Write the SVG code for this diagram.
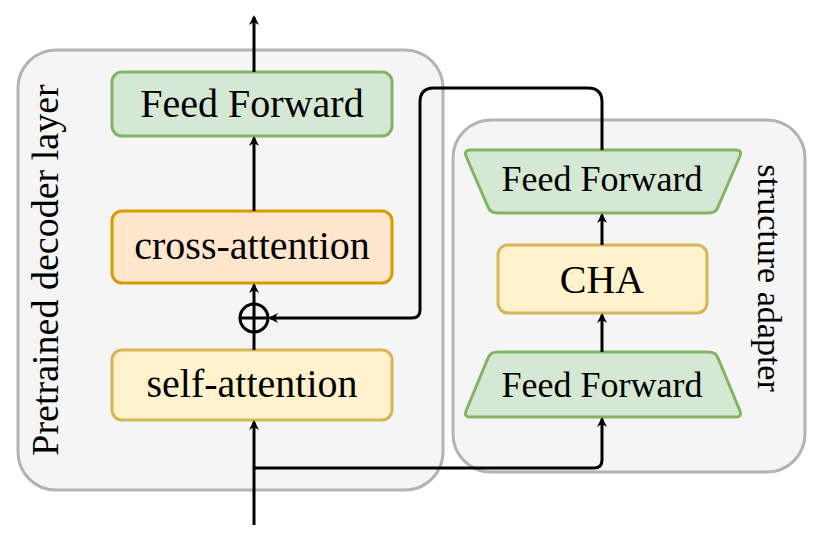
<svg xmlns="http://www.w3.org/2000/svg" width="831" height="551" viewBox="0 0 831 551">
<style>
.c{fill:#f5f5f5;stroke:#b3b3b3;stroke-width:3}
.g{fill:#d5e8d4;stroke:#82b366;stroke-width:3}
.o{fill:#ffe6cc;stroke:#d79b00;stroke-width:3}
.y{fill:#fff2cc;stroke:#d6b656;stroke-width:3}
text{font-family:"Liberation Serif",serif;fill:#000;text-anchor:middle}
.l{stroke:#000;stroke-width:3;fill:none}
</style>
<defs><marker id="a" markerWidth="10" markerHeight="10" refX="8" refY="5" orient="auto" markerUnits="userSpaceOnUse"><path d="M0,0 L10,5 L0,10 L3,5Z" fill="#000"/></marker></defs>
<g id="decoder"><rect class="c" x="18" y="50" width="425" height="440" rx="38"/>
<text transform="translate(58,270) rotate(-90)" font-size="38">Pretrained decoder layer</text></g>
<g id="adapter"><rect class="c" x="453" y="120" width="352" height="352" rx="38"/>
<text transform="translate(758,278) rotate(90)" font-size="34">structure adapter</text></g>
<g id="ff1"><rect class="g" x="112" y="72" width="280" height="64" rx="10"/><text x="252" y="117" font-size="40">Feed Forward</text></g>
<g id="cross"><rect class="o" x="112" y="211" width="280" height="72" rx="10"/><text x="252" y="259" font-size="40">cross-attention</text></g>
<g id="self"><rect class="y" x="112" y="350" width="280" height="70" rx="10"/><text x="252" y="397" font-size="40">self-attention</text></g>
<g id="ff2"><path class="g" d="M470,150 H736 Q742,150 740,156 L718,207 Q716,213 708,213 H498 Q490,213 488,207 L466,156 Q464,150 470,150Z"/><text x="602" y="191" font-size="36">Feed Forward</text></g>
<g id="cha"><rect class="y" x="498" y="245" width="209" height="68" rx="10"/><text x="602" y="293" font-size="40">CHA</text></g>
<g id="ff3"><path class="g" d="M498,352 H708 Q716,352 718,358 L740,411 Q742,417 736,417 H470 Q464,417 466,411 L488,358 Q490,352 498,352Z"/><text x="602" y="397" font-size="36">Feed Forward</text></g>
<g id="plus"><circle cx="254" cy="318" r="14" fill="none" stroke="#000" stroke-width="3"/><path class="l" d="M240,318 H268 M254,304 V332"/></g>
<g id="connectors">
<path class="l" d="M254,525 V422" marker-end="url(#a)"/>
<path class="l" d="M254,350 V332"/>
<path class="l" d="M254,304 V285" marker-end="url(#a)"/>
<path class="l" d="M254,211 V138" marker-end="url(#a)"/>
<path class="l" d="M254,72 V17" marker-end="url(#a)"/>
<path class="l" d="M254,468 H594 Q602,468 602,460 V419" marker-end="url(#a)"/>
<path class="l" d="M602,352 V315" marker-end="url(#a)"/>
<path class="l" d="M602,245 V215" marker-end="url(#a)"/>
<path class="l" d="M602,150 V102 Q602,88 588,88 H434 Q420,88 420,102 V310 Q420,318 412,318 H270" marker-end="url(#a)"/>
</g>
</svg>
